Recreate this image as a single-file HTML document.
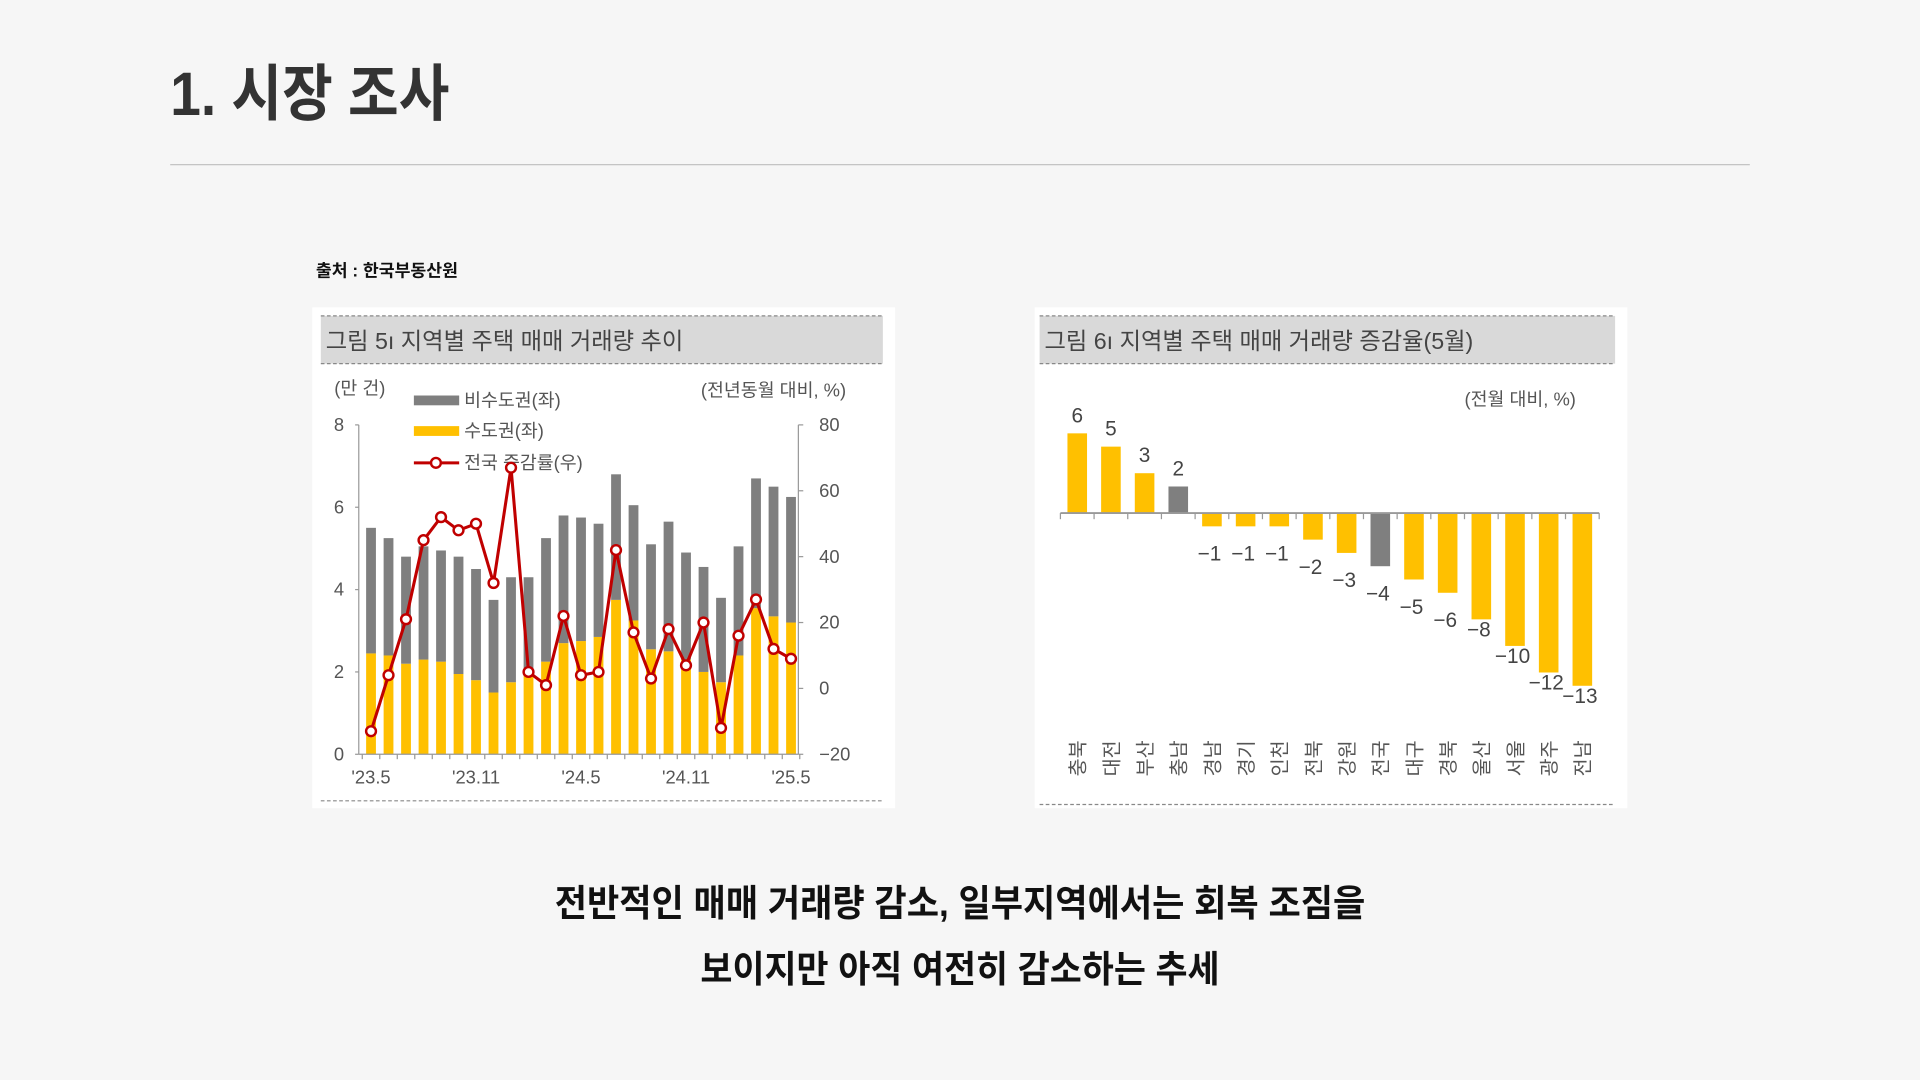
<!DOCTYPE html>
<html lang="ko"><head><meta charset="utf-8"><title>시장 조사</title>
<style>
html,body{margin:0;padding:0;background:#f6f6f6;}
svg{display:block;}
text{font-family:"Liberation Sans","Noto Sans CJK KR",sans-serif;}
</style></head>
<body>
<svg id="root" width="1920" height="1080" viewBox="0 0 1568 882" xmlns="http://www.w3.org/2000/svg">
<rect x="0" y="0" width="1568" height="882" fill="#f6f6f6"/>
<text x="139" y="94" font-size="50" font-weight="bold" fill="#333" textLength="228" lengthAdjust="spacingAndGlyphs">1. 시장 조사</text>
<line x1="139" y1="134.5" x2="1429" y2="134.5" stroke="#bdbdbd" stroke-width="1"/>
<text x="258" y="226" font-size="14" font-weight="bold" fill="#111" textLength="116" lengthAdjust="spacingAndGlyphs">출처 : 한국부동산원</text>

<!-- Left chart -->
<g id="leftChart">
<rect x="255" y="251" width="476" height="409" fill="#fff"/>
<rect x="262" y="258" width="459" height="39" fill="#d9d9d9"/>
<line x1="262" y1="258" x2="721" y2="258" stroke="#888" stroke-dasharray="3,2"/>
<line x1="262" y1="297" x2="721" y2="297" stroke="#888" stroke-dasharray="3,2"/>
<text x="266" y="285" font-size="19" fill="#444">그림 5ı 지역별 주택 매매 거래량 추이</text>
<text x="273" y="322" font-size="15" fill="#555">(만 건)</text>
<text x="691" y="324" font-size="15" fill="#555" text-anchor="end">(전년동월 대비, %)</text>
<rect x="338" y="323" width="37" height="8" fill="#7f7f7f"/>
<text x="379" y="332" font-size="15" fill="#555">비수도권(좌)</text>
<rect x="338" y="348" width="37" height="8" fill="#ffc000"/>
<text x="379" y="357" font-size="15" fill="#555">수도권(좌)</text>
<line x1="338" y1="378" x2="375" y2="378" stroke="#c00000" stroke-width="2.5"/>
<circle cx="356" cy="378" r="4" fill="#fff" stroke="#c00000" stroke-width="2"/>
<text x="379" y="383" font-size="15" fill="#555">전국 증감률(우)</text>
<g id="lBars"></g><g id="lAxes"></g><g id="lLine"></g>
<line x1="262" y1="654" x2="721" y2="654" stroke="#888" stroke-dasharray="3,2"/>
</g>

<!-- Right chart -->
<g id="rightChart">
<rect x="845" y="251" width="484" height="409" fill="#fff"/>
<rect x="849" y="258" width="470" height="39" fill="#d9d9d9"/>
<line x1="849" y1="258" x2="1319" y2="258" stroke="#888" stroke-dasharray="3,2"/>
<line x1="849" y1="297" x2="1319" y2="297" stroke="#888" stroke-dasharray="3,2"/>
<text x="853" y="285" font-size="19" fill="#444">그림 6ı 지역별 주택 매매 거래량 증감율(5월)</text>
<text x="1287" y="331" font-size="15" fill="#555" text-anchor="end">(전월 대비, %)</text>
<g id="rBars"></g>
<line x1="849" y1="657" x2="1319" y2="657" stroke="#888" stroke-dasharray="3,2"/>
</g>

<text x="784" y="748" font-size="30" font-weight="bold" fill="#111" text-anchor="middle" textLength="662" lengthAdjust="spacingAndGlyphs">전반적인 매매 거래량  감소, 일부지역에서는 회복 조짐을</text>
<text x="784" y="802" font-size="30" font-weight="bold" fill="#111" text-anchor="middle" textLength="424" lengthAdjust="spacingAndGlyphs">보이지만 아직 여전히 감소하는 추세</text>
</svg>
<script>
const months = ["23.5","23.6","23.7","23.8","23.9","23.10","23.11","23.12","24.1","24.2","24.3","24.4","24.5","24.6","24.7","24.8","24.9","24.10","24.11","24.12","25.1","25.2","25.3","25.4","25.5"];
const capital = [2.45,2.4,2.2,2.3,2.25,1.95,1.8,1.5,1.75,2.0,2.25,2.7,2.75,2.85,3.75,3.25,2.55,2.5,2.3,2.0,1.75,2.4,3.55,3.35,3.2];
const nonCapital = [3.05,2.85,2.6,2.75,2.7,2.85,2.7,2.25,2.55,2.3,3.0,3.1,3.0,2.75,3.05,2.8,2.55,3.15,2.6,2.55,2.05,2.65,3.15,3.15,3.05];
const national = [-13,4,21,45,52,48,50,32,67,5,1,22,4,5,42,17,3,18,7,20,-12,16,27,12,9];
const xTickLabels = ["'23.5","'23.11","'24.5","'24.11","'25.5"];
const xTickIdx = [0,6,12,18,24];
const leftTicks = [0,2,4,6,8];
const rightTicks = [-20,0,20,40,60,80];

const regions = ["충북","대전","부산","충남","경남","경기","인천","전북","강원","전국","대구","경북","울산","서울","광주","전남"];
const changes = [6,5,3,2,-1,-1,-1,-2,-3,-4,-5,-6,-8,-10,-12,-13];
const highlight = ["충남","전국"];

const NS = "http://www.w3.org/2000/svg";
function mk(tag, attrs, parent){const e=document.createElementNS(NS,tag);for(const k in attrs)e.setAttribute(k,attrs[k]);parent.appendChild(e);return e;}

// Left chart scales
const L = {x0:293, x1:652, yTop:347, yBot:616};
const xL = i => 303 + i*(646-303)/(months.length-1);
const yLeft = v => L.yBot - v/8*(L.yBot-L.yTop);
const yRight = v => L.yBot - (v+20)/100*(L.yBot-L.yTop);
const lBars = document.getElementById('lBars');
months.forEach((m,i)=>{
  const x = xL(i)-4;
  const c = mk('rect',{x:x,y:yLeft(capital[i]),width:8,height:yLeft(0)-yLeft(capital[i]),fill:'#ffc000'},lBars);
  
  
  const tot = capital[i]+nonCapital[i];
  const n = mk('rect',{x:x,y:yLeft(tot),width:8,height:yLeft(capital[i])-yLeft(tot),fill:'#7f7f7f'},lBars);
  
  
});
const lAxes = document.getElementById('lAxes');
let a = mk('line',{x1:L.x0,y1:L.yTop,x2:L.x0,y2:L.yBot,stroke:'#999'},lAxes);


a = mk('line',{x1:L.x1,y1:L.yTop,x2:L.x1,y2:L.yBot,stroke:'#999'},lAxes);


a = mk('line',{x1:L.x0,y1:L.yBot,x2:L.x1,y2:L.yBot,stroke:'#999'},lAxes);


leftTicks.forEach(v=>{
  const t = mk('line',{x1:L.x0-3,y1:yLeft(v),x2:L.x0,y2:yLeft(v),stroke:'#999'},lAxes);
  
  
  const tx = mk('text',{x:281,y:yLeft(v)+5,'font-size':15,fill:'#555','text-anchor':'end'},lAxes);
  tx.textContent = v;
  
  
});
rightTicks.forEach(v=>{
  const t = mk('line',{x1:L.x1,y1:yRight(v),x2:L.x1+4,y2:yRight(v),stroke:'#999'},lAxes);
  
  
  const tx = mk('text',{x:669,y:yRight(v)+5,'font-size':15,fill:'#555'},lAxes);
  tx.textContent = v<0 ? '\u2212'+(-v) : v;
  
  
});
for(let i=0;i<=months.length;i++){
  const x = xL(i)-(646-303)/(months.length-1)/2;
  const t = mk('line',{x1:x,y1:L.yBot,x2:x,y2:L.yBot+4,stroke:'#999'},lAxes);
  
  
}
xTickLabels.forEach((lab,k)=>{
  const tx = mk('text',{x:xL(xTickIdx[k]),y:640,'font-size':15,fill:'#555','text-anchor':'middle'},lAxes);
  tx.textContent = lab;
  
  
});
const lLine = document.getElementById('lLine');
const pl = mk('polyline',{points:national.map((v,i)=>xL(i)+','+yRight(v)).join(' '),fill:'none',stroke:'#c00000','stroke-width':2.5},lLine);


national.forEach((v,i)=>{
  const c = mk('circle',{cx:xL(i),cy:yRight(v),r:4,fill:'#fff',stroke:'#c00000','stroke-width':2},lLine);
  
  
});

// Right chart
const R = {x0:866, x1:1306, zero:419, unit:10.85};
const step = (R.x1-R.x0)/regions.length;
const xR = i => R.x0 + step*(i+0.5);
const yR = v => R.zero - v*R.unit;
const rBars = document.getElementById('rBars');
regions.forEach((r,i)=>{
  const v = changes[i];
  const y0 = Math.min(yR(v),R.zero), h = Math.abs(yR(v)-R.zero);
  const b = mk('rect',{x:xR(i)-8,y:y0,width:16,height:h,fill:highlight.includes(r)?'#7f7f7f':'#ffc000'},rBars);
  
  
  const lab = mk('text',{x:xR(i)+(v<0?-2:0),y:v>=0?yR(v)-9:yR(v)+(i>=12?-14:0)+28-(i>=13?(i-12)*0:0),'font-size':17,fill:'#444','text-anchor':'middle'},rBars);
  lab.textContent = v<0 ? '\u2212'+(-v) : v;
  
  
  const cat = mk('text',{transform:'translate('+(xR(i)+6)+',634) rotate(-90)','font-size':16,fill:'#555'},rBars);
  cat.textContent = r;
  
  
});
const ax = mk('line',{x1:R.x0,y1:R.zero,x2:R.x1,y2:R.zero,stroke:'#999','stroke-width':1.5},rBars);


for(let i=0;i<=regions.length;i++){
  const t = mk('line',{x1:R.x0+step*i,y1:R.zero,x2:R.x0+step*i,y2:R.zero+5,stroke:'#999'},rBars);
  
  
}
</script>
</body></html>
